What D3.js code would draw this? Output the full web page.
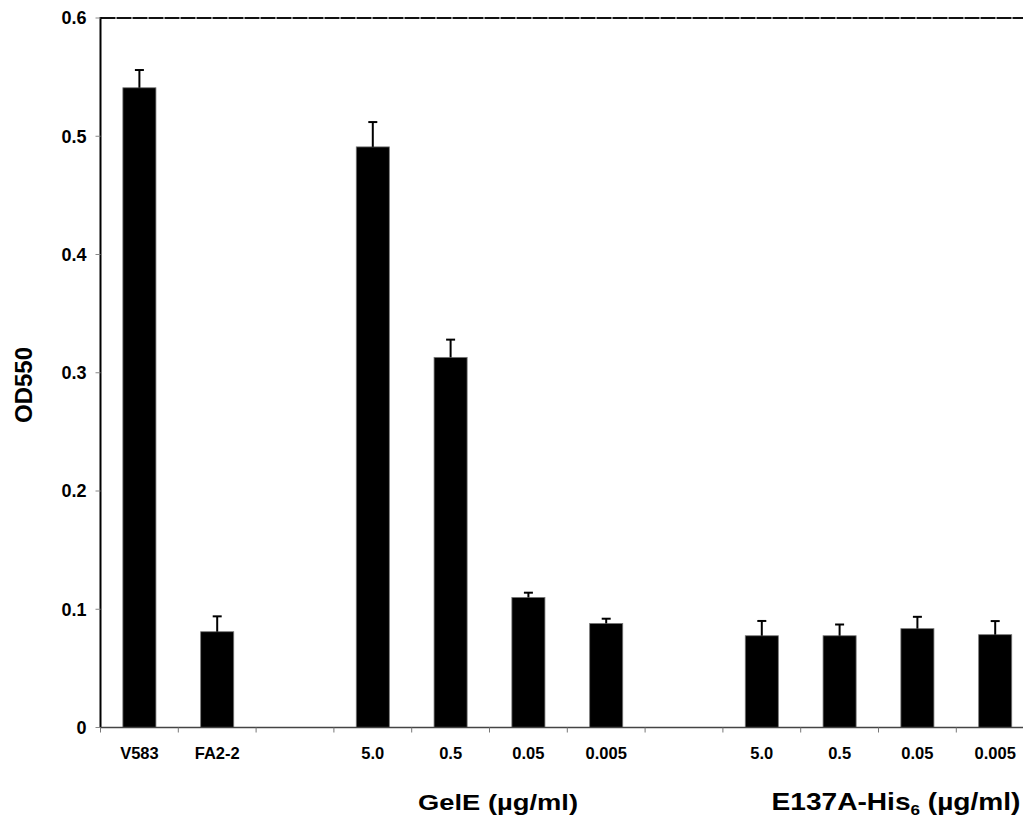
<!DOCTYPE html>
<html><head><meta charset="utf-8">
<script src="https://cdn.jsdelivr.net/npm/d3@7"></script>
<style>body{margin:0;background:#fff}svg{display:block;font-family:"Liberation Sans",Arial,sans-serif;font-weight:bold}</style>
</head><body><svg id="c" width="1023" height="825"></svg>
<script>
const categories = ["V583","FA2-2","gap1","G5.0","G0.5","G0.05","G0.005","gap2","E5.0","E0.5","E0.05","E0.005"];
const tickLabels = ["V583","FA2-2","","5.0","0.5","0.05","0.005","","5.0","0.5","0.05","0.005"];
const values = [0.541,0.081,null,0.491,0.313,0.110,0.088,null,0.0776,0.0776,0.0836,0.0785];
const errors = [0.015,0.013,null,0.021,0.015,0.004,0.004,null,0.0125,0.0095,0.0100,0.0115];
const yTicks = [0,0.1,0.2,0.3,0.4,0.5,0.6];
const yTickLabels = ["0","0.1","0.2","0.3","0.4","0.5","0.6"];

const svg = d3.select("#c");
const x0 = 100.5, y0 = 727.5, yTop = 18, stepPx = 77.8;
const x = d3.scaleBand().domain(categories).range([x0, x0 + 12*stepPx]).paddingInner(0.575).paddingOuter(0.2875);
const y = d3.scaleLinear().domain([0,0.6]).range([y0, yTop]);

// top dashed border
svg.append("line").attr("x1",x0).attr("x2",1023).attr("y1",y(0.6)).attr("y2",y(0.6))
  .attr("stroke","#111").attr("stroke-width",2).attr("stroke-dasharray","15,1");

// bars
const idx = d3.range(categories.length).filter(i => values[i] != null);
svg.append("g").selectAll("rect").data(idx).join("rect")
  .attr("x", i => x(categories[i])).attr("width", x.bandwidth())
  .attr("y", i => y(values[i])).attr("height", i => y(0) - y(values[i]))
  .attr("fill","#000").attr("stroke","#777").attr("stroke-width",0.8);

// error bars
const eg = svg.append("g").attr("stroke","#000").attr("stroke-width",2);
idx.forEach(i => {
  const cx = x(categories[i]) + x.bandwidth()/2;
  eg.append("line").attr("x1",cx).attr("x2",cx).attr("y1",y(values[i])).attr("y2",y(values[i]+errors[i]));
  eg.append("line").attr("x1",cx-4.5).attr("x2",cx+4.5).attr("y1",y(values[i]+errors[i])).attr("y2",y(values[i]+errors[i]));
});

// y axis
svg.append("line").attr("x1",x0).attr("x2",x0).attr("y1",yTop-1).attr("y2",y0).attr("stroke","#000").attr("stroke-width",2);
const yg = svg.append("g");
yTicks.forEach((t,i) => {
  yg.append("line").attr("x1",x0-5).attr("x2",x0).attr("y1",y(t)).attr("y2",y(t)).attr("stroke","#888").attr("stroke-width",1);
  yg.append("text").attr("x",86.5).attr("y",y(t)).attr("dy","0.36em").attr("text-anchor","end")
    .attr("font-size",18).text(yTickLabels[i]);
});

// x axis
svg.append("line").attr("x1",x0).attr("x2",1023).attr("y1",y0).attr("y2",y0).attr("stroke","#444").attr("stroke-width",1.5);
const xg = svg.append("g");
categories.forEach((c,i) => {
  xg.append("line").attr("x1",x0 + i*stepPx).attr("x2",x0 + i*stepPx).attr("y1",y0).attr("y2",y0+5).attr("stroke","#777").attr("stroke-width",1);
  xg.append("text").attr("x", x(c)+x.bandwidth()/2).attr("y",759).attr("text-anchor","middle")
    .attr("font-size",16.5).text(tickLabels[i]);
});

// y label
svg.append("text").attr("transform","translate(32,385) rotate(-90)").attr("text-anchor","middle")
  .attr("font-size",24).text("OD550");

// group labels (stretched horizontally like the reference)
function groupLabel(cx, targetW, build){
  const g = svg.append("g");
  const t = g.append("text").attr("x",0).attr("y",0).attr("text-anchor","middle").attr("font-size",23);
  build(t);
  const w = t.node().getBBox().width;
  g.attr("transform", `translate(${cx},810) scale(${targetW/w},1)`);
}
groupLabel(498, 160, t => { t.append("tspan").text("GelE (\u00b5g/ml)"); });
groupLabel(896, 249, t => {
  t.append("tspan").text("E137A-His");
  t.append("tspan").attr("font-size",14).attr("dy",5).text("6");
  t.append("tspan").attr("dy",-5).text(" (\u00b5g/ml)");
});
</script></body></html>
